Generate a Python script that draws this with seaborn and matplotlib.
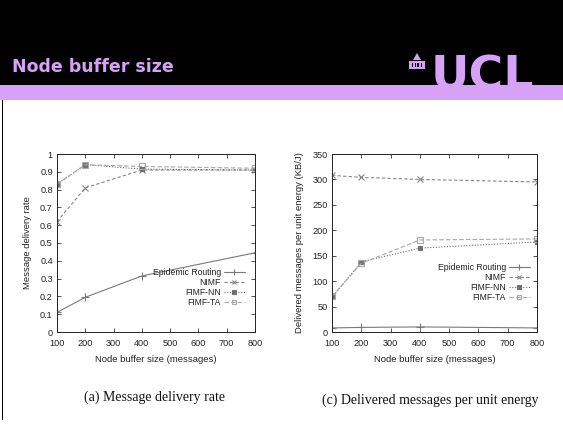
import matplotlib
matplotlib.use("Agg")
import matplotlib.pyplot as plt
import seaborn as sns
from matplotlib.patches import Rectangle, Polygon

# data
buffer_sizes = [100, 200, 400, 800]
series_names = ["Epidemic Routing", "NIMF", "FIMF-NN", "FIMF-TA"]

delivery_epidemic = [0.11, 0.195, 0.315, 0.445]
delivery_nimf = [0.62, 0.81, 0.91, 0.91]
delivery_fimf_nn = [0.83, 0.94, 0.915, 0.91]
delivery_fimf_ta = [0.83, 0.94, 0.93, 0.92]

energy_epidemic = [8, 9, 10, 8]
energy_nimf = [308, 304, 300, 295]
energy_fimf_nn = [68, 138, 165, 177]
energy_fimf_ta = [70, 135, 181, 183]

x_ticks = [100, 200, 300, 400, 500, 600, 700, 800]

sns.set_theme(style="ticks")
plt.rcParams["font.family"] = ["Liberation Sans", "DejaVu Sans"]

W, H = 563, 424
fig = plt.figure(figsize=(W / 100, H / 100), dpi=100)
fig.patch.set_facecolor("white")

purple = "#d6a1f7"

# slide header
fig.patches.append(Rectangle((0, 1 - 85 / H), 1, 85 / H, transform=fig.transFigure,
                             facecolor="black", edgecolor="none", zorder=0))
fig.patches.append(Rectangle((0, 1 - 100 / H), 1, 15 / H, transform=fig.transFigure,
                             facecolor=purple, edgecolor="none", zorder=1))
fig.patches.append(Rectangle((2 / W, 4 / H), 1.2 / W, (H - 104) / H, transform=fig.transFigure,
                             facecolor="black", edgecolor="none", zorder=1))
fig.text(12 / W, 1 - 67 / H, "Node buffer size", color=purple, fontsize=12.5,
         fontweight="bold", family="DejaVu Sans", va="center", ha="left")
fig.text(431 / W, 1 - 89 / H, "UCL", color=purple, fontsize=34, fontweight="heavy",
         family="DejaVu Sans", va="baseline", ha="left", zorder=0.5)

# little building icon
def px(x, y):
    return (x / W, 1 - y / H)

fig.patches.append(Polygon([px(413, 60), px(417, 53), px(421, 60)], closed=True,
                           transform=fig.transFigure, facecolor=purple, edgecolor="none"))
fig.patches.append(Rectangle(px(409, 69), 16 / W, 8 / H, transform=fig.transFigure,
                             facecolor=purple, edgecolor="none"))
for cx in [411.5, 414.5, 417.5, 420.5]:
    fig.patches.append(Rectangle(px(cx, 67), 1.2 / W, 4 / H, transform=fig.transFigure,
                                 facecolor="black", edgecolor="none"))

line_styles = {
    "Epidemic Routing": dict(color="#7a7a7a", linestyle="-", marker="+", markersize=6),
    "NIMF": dict(color="#858585", linestyle=(0, (3, 2)), marker="x", markersize=5),
    "FIMF-NN": dict(color="#707070", linestyle=(0, (1, 1.5)), marker="s", markersize=3.5,
                    markerfacecolor="#707070"),
    "FIMF-TA": dict(color="#a8a8a8", linestyle=(0, (4, 2)), marker="s", markersize=5,
                    markerfacecolor="none"),
}


def draw_panel(ax, values, ylim, yticks, ylabel, leg_anchor):
    for name, ys in zip(series_names, values):
        st = dict(line_styles[name])
        sns.lineplot(x=buffer_sizes, y=ys, ax=ax, label=name, linewidth=0.8,
                     markeredgecolor=st["color"], markeredgewidth=0.8, **st)
    ax.set_xlim(100, 800)
    ax.set_ylim(*ylim)
    ax.set_xticks(x_ticks)
    ax.set_yticks(yticks)
    ax.tick_params(direction="in", top=True, right=True, length=3, width=0.6,
                   labelsize=6.6, pad=3, colors="#333333", labelcolor="#222222")
    ax.tick_params(axis="x", pad=5)
    for s in ax.spines.values():
        s.set_visible(True)
        s.set_linewidth(0.7)
        s.set_color("#222222")
    ax.set_xlabel("Node buffer size (messages)", fontsize=6.8, color="#222222", labelpad=5)
    ax.set_ylabel(ylabel, fontsize=6.8, color="#222222", labelpad=6)
    leg = ax.legend(loc="lower right", bbox_to_anchor=leg_anchor, frameon=False,
                    markerfirst=False, fontsize=6.2, handlelength=2.5, labelspacing=0.12,
                    handletextpad=0.3, borderaxespad=0, borderpad=0)
    for t in leg.get_texts():
        t.set_color("#222222")
    for h in leg.legend_handles:
        h.set_markersize(h.get_markersize() * 0.7)


ax1 = fig.add_axes([57 / W, 1 - 332 / H, 198 / W, 178 / H])
draw_panel(ax1, [delivery_epidemic, delivery_nimf, delivery_fimf_nn, delivery_fimf_ta],
           (0, 1), [0, 0.1, 0.2, 0.3, 0.4, 0.5, 0.6, 0.7, 0.8, 0.9, 1],
           "Message delivery rate", (0.95, 0.14))
ax1.set_yticklabels(["0", "0.1", "0.2", "0.3", "0.4", "0.5", "0.6", "0.7", "0.8", "0.9", "1"])

ax2 = fig.add_axes([332 / W, 1 - 332 / H, 205 / W, 178 / H])
draw_panel(ax2, [energy_epidemic, energy_nimf, energy_fimf_nn, energy_fimf_ta],
           (0, 350), [0, 50, 100, 150, 200, 250, 300, 350],
           "Delivered messages per unit energy (KB/J)", (0.966, 0.17))

fig.text(155 / W, 1 - 397 / H, "(a) Message delivery rate", fontsize=10,
         family="Liberation Serif", ha="center", va="center", color="#111111")
fig.text(430 / W, 1 - 400 / H, "(c) Delivered messages per unit energy", fontsize=10,
         family="Liberation Serif", ha="center", va="center", color="#111111")

fig.savefig("out.png", dpi=100)
